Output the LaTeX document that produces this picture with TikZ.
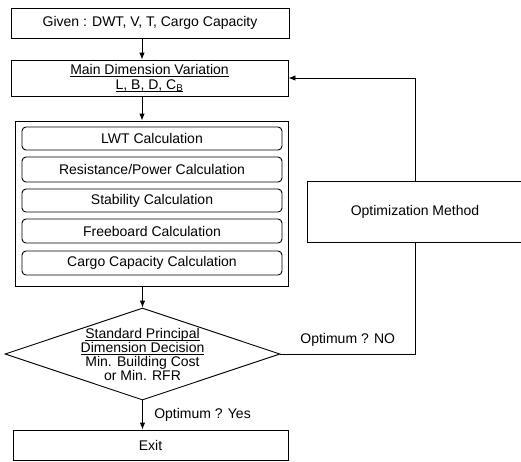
\documentclass[tikz,border=0pt]{standalone}
\usepackage{fontspec}
\setmainfont{Liberation Sans}
\newcommand\myul[1]{\setbox0\hbox{#1}\rlap{\vrule width\wd0 height -1.6pt depth 2.3pt}\box0}
\usetikzlibrary{shapes.geometric,arrows.meta}
\tikzset{
  flowbox/.style={draw, rectangle, inner sep=0pt, align=center},
  calcbox/.style={draw, rectangle, rounded corners=4pt, minimum width=260pt, minimum height=23pt, inner sep=0pt},
  arr/.style={-{Latex[length=7pt,width=5.5pt]}}
}
\begin{document}
\begin{tikzpicture}[x=1pt,y=-1pt, font=\fontsize{14}{14.3}\selectfont, line width=0.9pt]
\clip (0,0) rectangle (521,461);
\node[flowbox, minimum width=278pt, minimum height=30pt] (given) at (150,23) {Given : DWT, V, T, Cargo Capacity};
\node[flowbox, minimum width=277pt, minimum height=36pt] (main) at (149.5,78) {\myul{Main Dimension Variation}\\\myul{L, B, D, C\textsubscript{B}}};
\node[flowbox, minimum width=273pt, minimum height=165pt] (outer) at (151.5,203.5) {};
\node[calcbox] (lwt) at (152,138.5) {LWT Calculation};
\node[calcbox, minimum height=25pt] (res) at (152,169.5) {Resistance/Power Calculation};
\node[calcbox] (stab) at (152,200.5) {Stability Calculation};
\node[calcbox, minimum height=24pt] (free) at (152,231) {Freeboard Calculation};
\node[calcbox, minimum height=24pt] (cargo) at (152,263) {Cargo Capacity Calculation};
\node[draw, diamond, minimum width=275pt, minimum height=92pt, inner sep=0pt] (dec) at (142.5,354) {};
\node[align=center, inner sep=0pt] (dectext) at (142.5,354.5) {\myul{Standard Principal}\\\myul{Dimension Decision}\\Min. Building Cost\\or Min. RFR};
\node[flowbox, minimum width=216pt, minimum height=61pt] (opt) at (415,211.5) {Optimization Method};
\node[flowbox, minimum width=275pt, minimum height=30pt] (exit) at (150.5,445) {Exit};
\draw[arr] (given.south -| 142,0) coordinate (g1) -- (g1 |- main.north);
\draw[arr] (main.south -| 142,0) coordinate (m1) -- (m1 |- outer.north);
\draw[arr] (outer.south -| dec.north) -- (dec.north);
\draw[arr] (dec.south) -- node[right=8pt, pos=0.5] (yes) {Optimum ? Yes} (dec.south |- exit.north);
\draw (dec.east) -- node[above=4pt, pos=0.5] (no) {Optimum ? NO} (dec.east -| opt.south) -- (opt.south);
\draw[arr] (opt.north) -- (opt.north |- main.east) -- (main.east);
\end{tikzpicture}
\end{document}
